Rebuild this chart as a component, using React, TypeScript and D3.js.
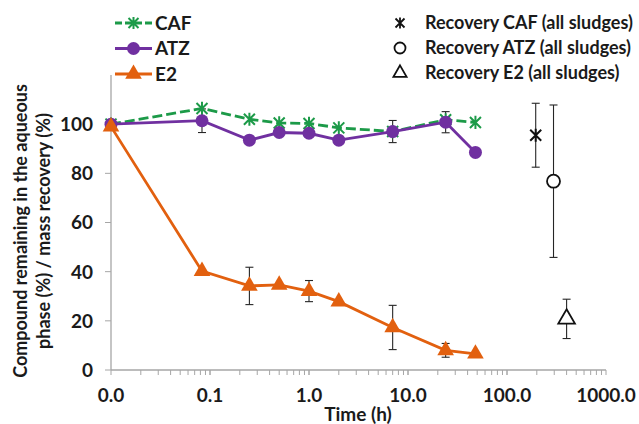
import React, { useEffect, useRef } from "react";
import * as d3 from "d3";

// sampling times (h); 0 is drawn at the left end of the log axis
const TIMES = [0, 0.083, 0.25, 0.5, 1, 2, 7, 24, 48];

const CAF = [100, 106.4, 102, 100.5, 100.3, 98.5, 97, 101.8, 100.7];
const ATZ = [100, 101.4, 93.5, 96.6, 96.3, 93.5, 97, 100.8, 88.5];
const ATZ_ERR = [0, 4.8, 0, 0, 0, 0, 4.5, 4.3, 0];
const E2 = [99, 40.2, 34.2, 34.6, 32.1, 27.8, 17.3, 8, 6.6];
const E2_ERR = [0, 0, 7.6, 0, 4.3, 0, 9, 2.8, 0];

// mass recovery, all sludges
const RECOVERY_NAMES = ["CAF", "ATZ", "E2"];
const RECOVERY_TIMES = [195, 295, 400];
const RECOVERY_VALUES = [95.5, 76.8, 20.8];
const RECOVERY_ERR = [13, 31, 8];

const X_TICKS = [0.01, 0.1, 1, 10, 100, 1000];
const X_TICK_LABELS = ["0.0", "0.1", "1.0", "10.0", "100.0", "1000.0"];
const Y_TICKS = [0, 20, 40, 60, 80, 100];

const COLORS = { CAF: "#1c9a48", ATZ: "#7030a0", E2: "#e2600f" };
const FONT = "Lato, 'Open Sans', sans-serif";
const TEXT = "#1a1a1a";

function starPath(s: number) {
  // Excel "star" marker: an X with a vertical stroke
  return `M${-s},${-s}L${s},${s}M${-s},${s}L${s},${-s}M0,${-s * 1.2}L0,${s * 1.2}`;
}

function App() {
  const svgRef = useRef<SVGSVGElement>(null);

  useEffect(() => {
    const width = 639;
    const height = 424;
    const svg = d3.select(svgRef.current).attr("width", width).attr("height", height);
    svg.selectAll("*").remove();

    const x = d3.scaleLog().domain([0.01, 1000]).range([111, 606]);
    const y = d3.scaleLinear().domain([0, 120]).range([370, 75]);
    const xp = (t: number) => x(Math.max(t, 0.01));

    const g = svg.append("g").style("font-family", FONT);

    // axes
    const axisColor = "#a6a6a6";
    g.append("line")
      .attr("x1", x(0.01)).attr("x2", x(1000))
      .attr("y1", y(0)).attr("y2", y(0))
      .attr("stroke", axisColor).attr("stroke-width", 1.3);
    g.append("line")
      .attr("x1", x(0.01)).attr("x2", x(0.01))
      .attr("y1", y(0)).attr("y2", y(120))
      .attr("stroke", axisColor).attr("stroke-width", 1.3);

    // x ticks (major + minor)
    const minor: number[] = [];
    for (let d = 0.01; d < 1000; d *= 10) {
      for (let k = 1; k <= 10; k++) minor.push(+(d * k).toPrecision(3));
    }
    g.selectAll(".xt")
      .data(minor)
      .join("line")
      .attr("x1", (d) => x(d)).attr("x2", (d) => x(d))
      .attr("y1", y(0)).attr("y2", y(0) + 5)
      .attr("stroke", axisColor).attr("stroke-width", 1);
    g.selectAll(".xl")
      .data(X_TICKS)
      .join("text")
      .attr("x", (d) => x(d))
      .attr("y", 402)
      .attr("text-anchor", "middle")
      .attr("font-size", 19)
      .attr("font-weight", "bold")
      .attr("fill", TEXT)
      .text((d, i) => X_TICK_LABELS[i]);

    // y ticks
    g.selectAll(".yt")
      .data(Y_TICKS)
      .join("line")
      .attr("x1", x(0.01) - 6).attr("x2", x(0.01))
      .attr("y1", (d) => y(d)).attr("y2", (d) => y(d))
      .attr("stroke", axisColor).attr("stroke-width", 1);
    g.selectAll(".yl")
      .data(Y_TICKS)
      .join("text")
      .attr("x", 93)
      .attr("y", (d) => y(d))
      .attr("dy", "0.36em")
      .attr("text-anchor", "end")
      .attr("font-size", 19)
      .attr("font-weight", "bold")
      .attr("fill", TEXT)
      .text((d) => d);

    // axis titles
    g.append("text")
      .attr("x", 358).attr("y", 421)
      .attr("text-anchor", "middle")
      .attr("font-size", 19).attr("font-weight", "bold").attr("fill", TEXT)
      .text("Time (h)");
    const yt = g.append("text")
      .attr("transform", "translate(27,231) rotate(-90)")
      .attr("text-anchor", "middle")
      .attr("font-size", 18).attr("font-weight", "bold").attr("fill", TEXT);
    yt.append("tspan").attr("x", 0).attr("dy", 0).text("Compound remaining in the aqueous");
    yt.append("tspan").attr("x", 0).attr("dy", 23).text("phase (%) / mass recovery (%)");

    // error bars
    const errBar = (t: number, v: number, e: number) => {
      if (!e) return;
      const cx = xp(t);
      const eg = g.append("g").attr("stroke", "#262626").attr("stroke-width", 1.1);
      eg.append("line").attr("x1", cx).attr("x2", cx).attr("y1", y(v - e)).attr("y2", y(v + e));
      eg.append("line").attr("x1", cx - 4).attr("x2", cx + 4).attr("y1", y(v - e)).attr("y2", y(v - e));
      eg.append("line").attr("x1", cx - 4).attr("x2", cx + 4).attr("y1", y(v + e)).attr("y2", y(v + e));
    };
    TIMES.forEach((t, i) => errBar(t, ATZ[i], ATZ_ERR[i]));
    TIMES.forEach((t, i) => errBar(t, E2[i], E2_ERR[i]));
    RECOVERY_TIMES.forEach((t, i) => errBar(t, RECOVERY_VALUES[i], RECOVERY_ERR[i]));

    const line = (vals: number[]) =>
      d3.line<number>().x((_, i) => xp(TIMES[i])).y((v) => y(v))(vals);

    const triangle = d3.symbol().type(d3.symbolTriangle).size(120)();

    // CAF
    g.append("path")
      .attr("d", line(CAF))
      .attr("fill", "none")
      .attr("stroke", COLORS.CAF)
      .attr("stroke-width", 2.8)
      .attr("stroke-dasharray", "10,4");
    g.selectAll(".caf")
      .data(CAF)
      .join("path")
      .attr("transform", (v, i) => `translate(${xp(TIMES[i])},${y(v)})`)
      .attr("d", starPath(5.5))
      .attr("fill", "none")
      .attr("stroke", COLORS.CAF)
      .attr("stroke-width", 2);

    // ATZ
    g.append("path")
      .attr("d", line(ATZ))
      .attr("fill", "none")
      .attr("stroke", COLORS.ATZ)
      .attr("stroke-width", 2.8);
    g.selectAll(".atz")
      .data(ATZ)
      .join("circle")
      .attr("cx", (v, i) => xp(TIMES[i]))
      .attr("cy", (v) => y(v))
      .attr("r", 6.5)
      .attr("fill", COLORS.ATZ);

    // E2
    g.append("path")
      .attr("d", line(E2))
      .attr("fill", "none")
      .attr("stroke", COLORS.E2)
      .attr("stroke-width", 2.8);
    g.selectAll(".e2")
      .data(E2)
      .join("path")
      .attr("transform", (v, i) => `translate(${xp(TIMES[i])},${y(v)})`)
      .attr("d", triangle)
      .attr("fill", COLORS.E2);

    // recovery markers
    RECOVERY_NAMES.forEach((name, i) => {
      const cx = xp(RECOVERY_TIMES[i]);
      const cy = y(RECOVERY_VALUES[i]);
      if (name === "CAF") {
        g.append("path").attr("transform", `translate(${cx},${cy})`).attr("d", starPath(5.5))
          .attr("fill", "none").attr("stroke", "#111").attr("stroke-width", 2);
      } else if (name === "ATZ") {
        g.append("circle").attr("cx", cx).attr("cy", cy).attr("r", 6.5)
          .attr("fill", "#fff").attr("stroke", "#111").attr("stroke-width", 1.8);
      } else {
        g.append("path").attr("transform", `translate(${cx},${cy})`).attr("d", triangle)
          .attr("fill", "#fff").attr("stroke", "#111").attr("stroke-width", 1.8);
      }
    });

    // legend, left
    const legendRows = [
      { name: "CAF", color: COLORS.CAF, dash: "7,3" },
      { name: "ATZ", color: COLORS.ATZ, dash: null },
      { name: "E2", color: COLORS.E2, dash: null },
    ];
    legendRows.forEach((r, i) => {
      const ly = 23 + i * 25.5;
      const lg = g.append("g");
      lg.append("line").attr("x1", 115).attr("x2", 152).attr("y1", ly).attr("y2", ly)
        .attr("stroke", r.color).attr("stroke-width", 2.8)
        .attr("stroke-dasharray", r.dash ?? null);
      if (r.name === "CAF") {
        lg.append("path").attr("transform", `translate(133.5,${ly})`).attr("d", starPath(5))
          .attr("fill", "none").attr("stroke", r.color).attr("stroke-width", 2);
      } else if (r.name === "ATZ") {
        lg.append("circle").attr("cx", 133.5).attr("cy", ly).attr("r", 6.5).attr("fill", r.color);
      } else {
        lg.append("path").attr("transform", `translate(133.5,${ly})`).attr("d", triangle).attr("fill", r.color);
      }
      lg.append("text").attr("x", 155).attr("y", ly).attr("dy", "0.36em")
        .attr("font-size", 19).attr("font-weight", "bold").attr("fill", TEXT)
        .text(r.name);
    });

    // legend, right
    RECOVERY_NAMES.forEach((name, i) => {
      const ly = 23 + i * 25;
      const cx = 400;
      if (name === "CAF") {
        g.append("path").attr("transform", `translate(${cx},${ly})`).attr("d", starPath(4.5))
          .attr("fill", "none").attr("stroke", "#111").attr("stroke-width", 1.8);
      } else if (name === "ATZ") {
        g.append("circle").attr("cx", cx).attr("cy", ly).attr("r", 5.5)
          .attr("fill", "#fff").attr("stroke", "#111").attr("stroke-width", 1.8);
      } else {
        g.append("path").attr("transform", `translate(${cx},${ly})`)
          .attr("d", d3.symbol().type(d3.symbolTriangle).size(75)())
          .attr("fill", "#fff").attr("stroke", "#111").attr("stroke-width", 1.8);
      }
      g.append("text").attr("x", 425).attr("y", ly).attr("dy", "0.36em")
        .attr("font-size", 18).attr("font-weight", "bold").attr("fill", TEXT)
        .text(`Recovery ${name} (all sludges)`);
    });
  }, []);

  return (
    <svg ref={svgRef} style={{ position: "absolute", left: 0, top: 0, background: "#fff" }} />
  );
}

export default App;
